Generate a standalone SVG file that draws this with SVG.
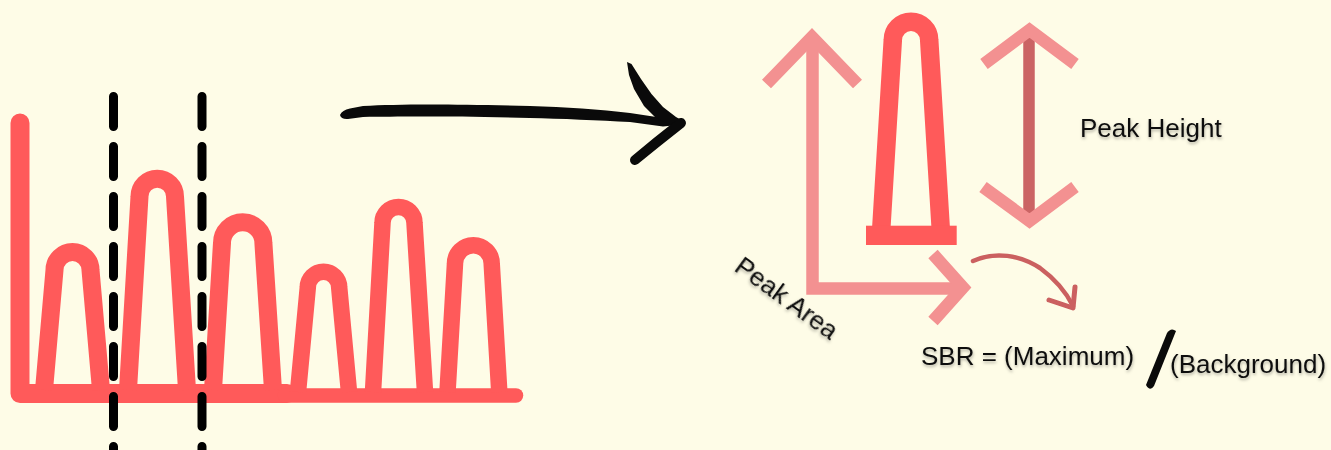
<svg xmlns="http://www.w3.org/2000/svg" width="1331" height="450" viewBox="0 0 1331 450">
  <defs>
    <style>
      .peak { fill: none; stroke: #FF5A5A; stroke-width: 18; stroke-linejoin: round; }
      .peak2 { fill: none; stroke: #FF5A5A; stroke-width: 16.5; stroke-linejoin: round; }
      .pink { fill: none; stroke: #F39191; stroke-width: 12.5; stroke-linecap: butt; stroke-linejoin: miter; }
      .dash { fill: none; stroke: #000; stroke-width: 9; stroke-dasharray: 30 20; stroke-linecap: round; }
      .lbl { font-family: "Liberation Sans", Arial, sans-serif; font-size: 26px; fill: #111; filter: url(#sh); }
      .brush { fill: #0a0a0a; }
    </style>
    <filter id="sh" x="-10%" y="-30%" width="120%" height="160%">
      <feDropShadow dx="0.5" dy="2" stdDeviation="1.5" flood-color="#000" flood-opacity="0.3"/>
    </filter>
  </defs>
  <rect width="1331" height="450" fill="#FEFCE7"/>

  <g id="chromatogram">
    <path d="M20,123 L20,393.5 L287,393.5" fill="none" stroke="#FF5A5A" stroke-width="19" stroke-linecap="round" stroke-linejoin="round"/>
    <path d="M285,395.5 L516,395.5" fill="none" stroke="#FF5A5A" stroke-width="14.5" stroke-linecap="round"/>
    <path class="peak" d="M44,390 L54.5,270 A18,18 0 0 1 90.5,270 L101,390"/>
    <path class="peak" d="M128,390 L139.5,196.5 A17.75,17.75 0 0 1 175,196.5 L187,390"/>
    <path class="peak" d="M213,390 L222,243 A20.7,20.7 0 0 1 263.4,243 L273,390"/>
    <path class="peak2" d="M298,392 L307.8,287.4 A15.7,15.7 0 0 1 339.2,287.4 L349,392"/>
    <path class="peak2" d="M373,392 L382.5,223 A16,16 0 0 1 414.5,223 L425,392"/>
    <path class="peak2" d="M447.5,392 L455,263.6 A18.35,18.35 0 0 1 491.7,263.6 L499.3,392"/>
    <line class="dash" x1="113.5" y1="96.5" x2="113.5" y2="470"/>
    <line class="dash" x1="202" y1="96.5" x2="202" y2="470"/>
  </g>

  <g id="peak-detail">
    <path class="pink" d="M766.5,84 L812,37 L857.5,84"/>
    <path class="pink" d="M812.5,37 L812.5,288.5 L963,288.5"/>
    <path class="pink" d="M933,254 L963,287.5 L933,321"/>
    <path d="M881.3,228 L892.8,40 A18.2,18.2 0 0 1 929.2,40 L940.7,228" fill="none" stroke="#FF5A5A" stroke-width="18.5"/>
    <rect x="866" y="225.7" width="90.7" height="19.3" fill="#FF5A5A"/>
  </g>

  <g id="peak-height">
    <line x1="1029" y1="32" x2="1029" y2="220" stroke="#CB6464" stroke-width="11.5"/>
    <path class="pink" d="M984,64 L1029.5,30 L1075,64"/>
    <path class="pink" d="M983,187 L1029.5,221 L1075,187"/>
    <text class="lbl" x="1080" y="137">Peak Height</text>
  </g>

  <g id="peak-area-label">
    <text class="lbl" transform="translate(733,270) rotate(36)">Peak Area</text>
  </g>

  <g id="sbr-formula">
    <text class="lbl" x="921" y="365">SBR = (Maximum)</text>
    <path class="brush" d="M1146,385 L1167,333 Q1171,327 1176,331 L1154,386 Q1150,392 1146,385 Z"/>
    <text class="lbl" x="1170" y="373">(Background)</text>
  </g>

  <g id="connectors">
    <path class="brush" d="M340,115 Q342,110 350,108.5 L363,106 C400,104 450,104 530,106 C565,107 600,109.5 630,113 L663,118 L683,121 L683,124.5 L663,126.5 L630,122 C600,120.5 560,118.5 530,118 C450,116 400,116.5 363,117 L348,119 Q341,119.5 340,115 Z"/>
    <path class="brush" d="M627,62 L631.5,64 L641,79 L651.5,94 L663,107 L676,117 L684,121.5 L677,125 L669,124 L656,118 L644,106 L634,89 L629,75 Z"/>
    <path d="M681,123 L657,142 L635,160" fill="none" stroke="#0a0a0a" stroke-width="10" stroke-linecap="round"/>
    <path d="M973,261 C995,251 1020,255 1040,268 C1055,279 1066,292 1073,306" fill="none" stroke="#CB6060" stroke-width="4.5" stroke-linecap="round"/>
    <path d="M1049,300 L1073,308 L1075,287" fill="none" stroke="#CB6060" stroke-width="5" stroke-linecap="round" stroke-linejoin="round"/>
  </g>
</svg>
